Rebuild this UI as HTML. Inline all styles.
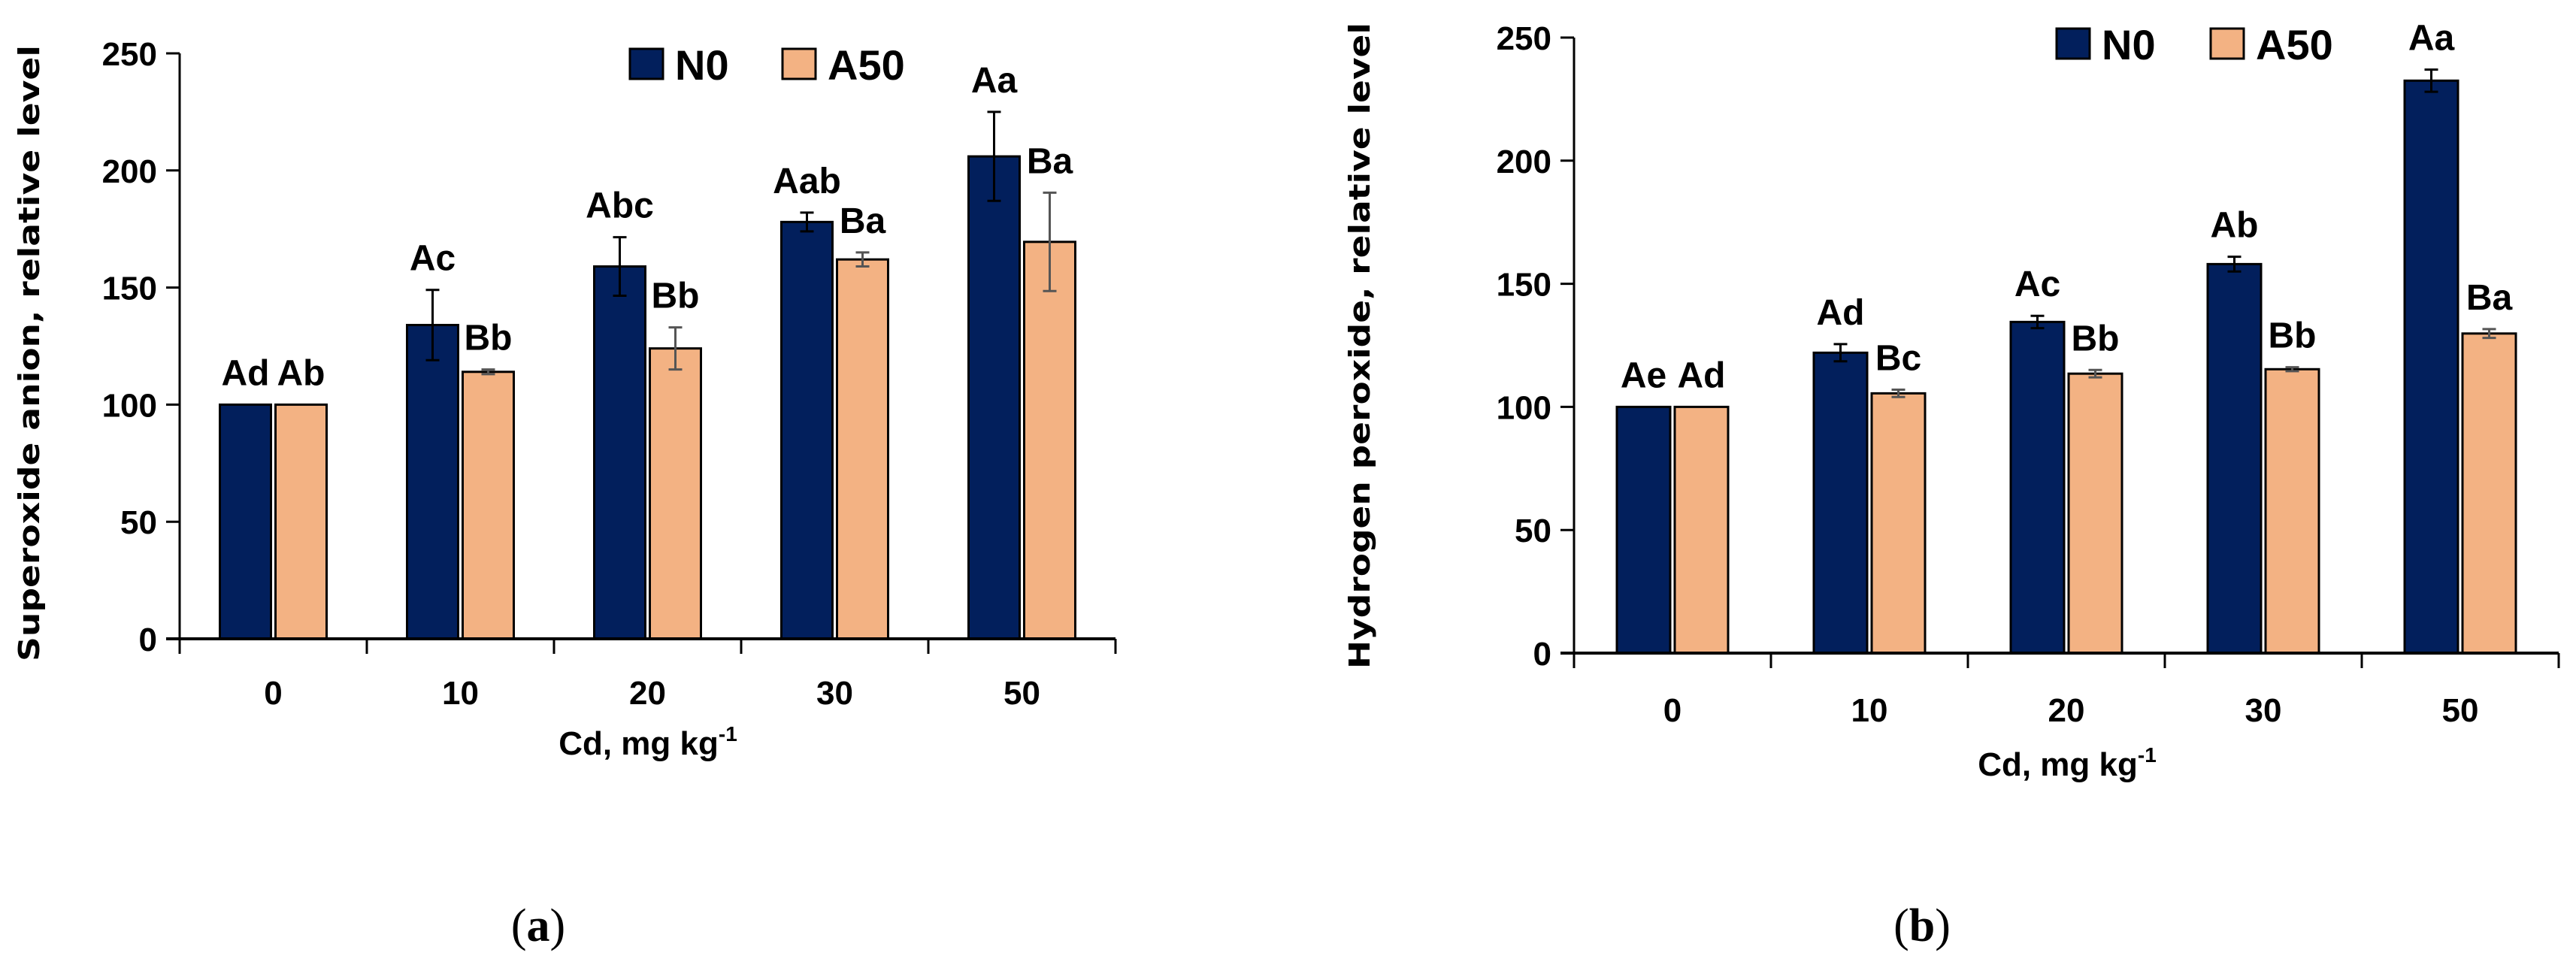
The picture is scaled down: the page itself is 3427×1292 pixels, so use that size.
<!DOCTYPE html>
<html><head><meta charset="utf-8"><style>
html,body{margin:0;padding:0;background:#fff;}
svg{display:block;}
text{font-family:"Liberation Sans",Arial,sans-serif;font-weight:bold;fill:#000;}
</style></head><body>
<svg id="fig" width="3427" height="1292" viewBox="0 0 3427 1292" xmlns="http://www.w3.org/2000/svg"></svg>
<script>
const categories = ["0","10","20","30","50"];
const yTicks = [0,50,100,150,200,250];
// Panel a: superoxide anion
const aN0 = [100,134,159,178,206];
const aN0Err = [0,15,12.5,4,19];
const aA50 = [100,114,124,162,169.5];
const aA50Err = [0,1,9,3,21];
const aN0Labels = ["Ad","Ac","Abc","Aab","Aa"];
const aA50Labels = ["Ab","Bb","Bb","Ba","Ba"];
// Panel b: hydrogen peroxide
const bN0 = [100,122,134.5,158,232.5];
const bN0Err = [0,3.5,2.5,3,4.5];
const bA50 = [100,105.5,113.5,115.3,129.8];
const bA50Err = [0,1.5,1.5,0.8,1.8];
const bN0Labels = ["Ae","Ad","Ac","Ab","Aa"];
const bA50Labels = ["Ad","Bc","Bb","Bb","Ba"];

const NS="http://www.w3.org/2000/svg";
const svg=document.getElementById('fig');
function mk(tag,attrs,parent){const e=document.createElementNS(NS,tag);for(const k in attrs)e.setAttribute(k,attrs[k]);(parent||svg).appendChild(e);return e;}

function panel(cfg){
  const g=mk('g',{});
  
  
  const x0=cfg.x0, cw=cfg.cw, y0=cfg.y0, ppu=cfg.ppu, bw=cfg.bw;
  const Y=v=>y0-v*ppu;
  const xEnd=x0+cw*categories.length;
  categories.forEach((c,i)=>{
    const cx=x0+cw*(i+0.5);
    [[cfg.n0,cfg.n0e,'#021f5c','#000',-1,cfg.n0l],[cfg.a50,cfg.a50e,'#f3b283','#555',1,cfg.a50l]].forEach((s,si)=>{
      const v=s[0][i], e=s[1][i];
      const bx= s[4]<0 ? cx-3-bw : cx+3;
      const r=mk('rect',{x:bx,y:Y(v),width:bw,height:v*ppu,fill:s[2],stroke:'#000','stroke-width':3},g);
      
      
      const mx=bx+bw/2;
      if(e>0){
        const eb=mk('path',{d:`M${mx},${Y(v+e)}V${Y(v-e)}M${mx-9},${Y(v+e)}h18M${mx-9},${Y(v-e)}h18`,stroke:s[3],'stroke-width':3,fill:'none'},g);
        
        
      }
      const t=mk('text',{x:mx,y:Y(v+e)-26,'font-size':48,'text-anchor':'middle'},g);
      t.textContent=s[5][i];
      
      
    });
    const tk=mk('line',{x1:x0+cw*(i+1),x2:x0+cw*(i+1),y1:y0,y2:y0+cfg.tickDown,stroke:'#000','stroke-width':3},g);
    
    
    const xl=mk('text',{x:cx,y:cfg.xLabY,'font-size':44,'text-anchor':'middle'},g);
    xl.textContent=c;
    
    
  });
  const t0=mk('line',{x1:x0,x2:x0,y1:y0,y2:y0+cfg.tickDown,stroke:'#000','stroke-width':3},g);
  
  
  const ya=mk('line',{x1:x0,x2:x0,y1:Y(250),y2:y0,stroke:'#000','stroke-width':3},g);
  
  
  const xa=mk('line',{x1:x0-18,x2:xEnd,y1:y0,y2:y0,stroke:'#000','stroke-width':4},g);
  
  
  yTicks.forEach(v=>{
    const l=mk('line',{x1:x0-18,x2:x0,y1:Y(v),y2:Y(v),stroke:'#000','stroke-width':3},g);
    
    
    const t=mk('text',{x:x0-30,y:Y(v)+16,'font-size':44,'text-anchor':'end'},g);
    t.textContent=v;
    
    
  });
  const yt=mk('text',{x:0,y:0,'font-size':38,'text-anchor':'middle',transform:`translate(${cfg.ytX},${cfg.ytY}) rotate(-90)`,textLength:cfg.ytLen,lengthAdjust:'spacingAndGlyphs',style:'font-family:"DejaVu Sans",sans-serif'},g);
  yt.textContent=cfg.ytitle;
  
  
  const xt=mk('text',{x:cfg.xtX,y:cfg.xtY,'font-size':44,'text-anchor':'middle'},g);
  xt.textContent='Cd, mg kg';
  const sup=mk('tspan',{'font-size':28,dy:-18},xt);
  sup.textContent='-1';
  
  
  const lg=mk('g',{},g);
  
  
  [[cfg.lg[0],'#021f5c','N0'],[cfg.lg[1],'#f3b283','A50']].forEach(it=>{
    const r=mk('rect',{x:it[0],y:cfg.lgY,width:44,height:40,fill:it[1],stroke:'#000','stroke-width':3},lg);
    
    
    const t=mk('text',{x:it[0]+60,y:cfg.lgY+41,'font-size':56},lg);
    t.textContent=it[2];
    
    
  });
  const cp=mk('text',{x:cfg.capX,y:1252,'font-size':62,'text-anchor':'middle',style:'font-family:"Liberation Serif",serif;font-weight:normal'},g);
  cp.innerHTML=cfg.cap;
  
  
}

panel({name:'chart-a-superoxide',x0:239,cw:249,y0:850,ppu:(850-71)/250,bw:68,
  n0:aN0,n0e:aN0Err,a50:aA50,a50e:aA50Err,n0l:aN0Labels,a50l:aA50Labels,
  tickDown:20,xLabY:937,ytX:52,ytY:470,ytLen:820,ytitle:'Superoxide anion, relative level',
  xtX:862,xtY:1004,lg:[838,1041],lgY:65,capX:716,cap:'(<tspan font-weight="bold">a</tspan>)'});
panel({name:'chart-b-hydrogen-peroxide',x0:2094,cw:262,y0:869,ppu:(869-50)/250,bw:71,
  n0:bN0,n0e:bN0Err,a50:bA50,a50e:bA50Err,n0l:bN0Labels,a50l:bA50Labels,
  tickDown:20,xLabY:960,ytX:1822,ytY:460,ytLen:860,ytitle:'Hydrogen peroxide, relative level',
  xtX:2750,xtY:1032,lg:[2736,2941],lgY:38,capX:2557,cap:'(<tspan font-weight="bold">b</tspan>)'});
</script>
</body></html>
